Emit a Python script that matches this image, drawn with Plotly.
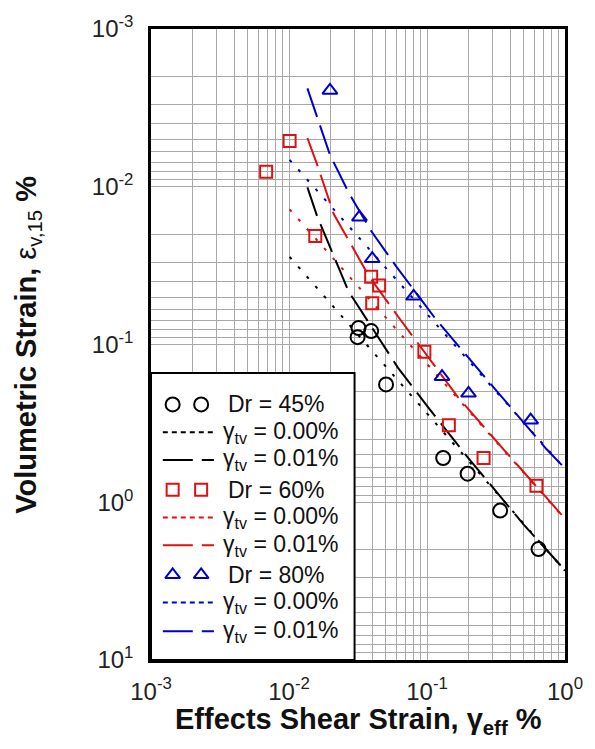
import plotly.graph_objects as go

# ---- measured test results (strain in %) ----
dr45_x = [0.0319, 0.0314, 0.0394, 0.0505, 0.131, 0.197, 0.339, 0.643]
dr45_y = [0.0787, 0.0898, 0.0822, 0.179, 0.524, 0.659, 1.13, 1.98]

dr60_x = [0.00683, 0.0101, 0.0155, 0.0394, 0.0450, 0.0401, 0.0957, 0.144, 0.257, 0.621]
dr60_y = [0.00802, 0.00513, 0.0205, 0.0372, 0.0422, 0.0548, 0.111, 0.325, 0.524, 0.785]

dr80_x = [0.0198, 0.0324, 0.0401, 0.080, 0.1285, 0.200, 0.564]
dr80_y = [0.00245, 0.0156, 0.0286, 0.0495, 0.160, 0.204, 0.302]

# ---- fitted relations, gamma_tv = 0.00 % ----
fit0_x = [0.0101, 1.0]
dr45_fit0_y = [0.0278, 2.72]
dr60_fit0_y = [0.0139, 1.28]
dr80_fit0_y = [0.00675, 0.614]

# ---- fitted relations, gamma_tv = 0.01 % ----
dr45_fit1_x = [0.0136, 0.016, 0.027, 0.0615, 0.102, 0.194, 0.50, 1.0]
dr45_fit1_y = [0.0101, 0.0154, 0.046, 0.140, 0.250, 0.51, 1.38, 2.70]
dr60_fit1_x = [0.0136, 0.016, 0.0211, 0.0382, 0.0615, 0.167, 0.361, 1.0]
dr60_fit1_y = [0.00491, 0.00724, 0.0149, 0.0372, 0.0662, 0.215, 0.465, 1.27]
dr80_fit1_x = [0.0136, 0.0198, 0.027, 0.0394, 0.0594, 0.1146, 0.292, 0.733, 1.0]
dr80_fit1_y = [0.00238, 0.00627, 0.01086, 0.0191, 0.0317, 0.0683, 0.1795, 0.46, 0.61]

tick_vals = [0.001, 0.01, 0.1, 1, 10]
tick_text = ["10<sup>-3</sup>", "10<sup>-2</sup>", "10<sup>-1</sup>", "10<sup>0</sup>", "10<sup>1</sup>"]

legend_rows = [
    ("Dr = 45%", "marker", "#000000", "circle-open", 14),
    ("γ<sub>tv</sub> = 0.00%", "dot", "#000000", None, None),
    ("γ<sub>tv</sub> = 0.01%", "dash", "#000000", None, None),
    ("Dr = 60%", "marker", "#dd1111", "square-open", 12),
    ("γ<sub>tv</sub> = 0.00%", "dot", "#dd1111", None, None),
    ("γ<sub>tv</sub> = 0.01%", "dash", "#dd1111", None, None),
    ("Dr = 80%", "marker", "#0000cc", "triangle-up-open", 13),
    ("γ<sub>tv</sub> = 0.00%", "dot", "#0000cc", None, None),
    ("γ<sub>tv</sub> = 0.01%", "dash", "#0000cc", None, None),
]

FONT = "Liberation Sans, Arial, sans-serif"
GRID = "#a8a8a8"
DOT = "3px,10px"
LONGDASH = "30px,9px"

fig = go.Figure()

series = [
    (dr45_x, dr45_y, dr45_fit0_y, dr45_fit1_x, dr45_fit1_y, "#000000", "circle-open", 14),
    (dr60_x, dr60_y, dr60_fit0_y, dr60_fit1_x, dr60_fit1_y, "#dd1111", "square-open", 12),
    (dr80_x, dr80_y, dr80_fit0_y, dr80_fit1_x, dr80_fit1_y, "#0000cc", "triangle-up-open", 13),
]

for px, py, f0y, f1x, f1y, col, sym, size in series:
    fig.add_trace(go.Scatter(x=fit0_x, y=f0y, mode="lines",
                             line=dict(color=col, width=2, dash=DOT),
                             showlegend=False, hoverinfo="skip"))
    fig.add_trace(go.Scatter(x=f1x, y=f1y, mode="lines",
                             line=dict(color=col, width=2, dash=LONGDASH),
                             showlegend=False, hoverinfo="skip"))
for px, py, f0y, f1x, f1y, col, sym, size in series:
    fig.add_trace(go.Scatter(x=px, y=py, mode="markers",
                             marker=dict(symbol=sym, size=size, color=col,
                                         line=dict(width=2)),
                             showlegend=False, hoverinfo="skip"))

# ---- hand-built legend on an overlay axis spanning the plot area ----
# white box with black frame
box_x = [0, 0.4917, 0.4917, 0, 0]
box_y = [0, 0, 0.455, 0.455, 0]
fig.add_trace(go.Scatter(x=box_x, y=box_y, mode="lines", fill="toself",
                         fillcolor="white", line=dict(color="black", width=2),
                         xaxis="x2", yaxis="y2", showlegend=False,
                         hoverinfo="skip"))

row_y = [0.405, 0.361, 0.317, 0.270, 0.226, 0.182, 0.135, 0.091, 0.0455]
annotations = []
for (label, kind, col, sym, size), yy in zip(legend_rows, row_y):
    if kind == "marker":
        fig.add_trace(go.Scatter(x=[0.0523, 0.1211], y=[yy, yy], mode="markers",
                                 xaxis="x2", yaxis="y2",
                                 marker=dict(symbol=sym, size=size, color=col,
                                             line=dict(width=2)),
                                 showlegend=False, hoverinfo="skip"))
        tx = 0.1805
    else:
        fig.add_trace(go.Scatter(x=[0.0285, 0.152], y=[yy, yy], mode="lines",
                                 xaxis="x2", yaxis="y2",
                                 line=dict(color=col, width=2,
                                           dash="5px,4px" if kind == "dot" else LONGDASH),
                                 showlegend=False, hoverinfo="skip"))
        tx = 0.1686
    annotations.append(dict(x=tx, y=yy, xref="paper", yref="paper", text=label,
                            showarrow=False, xanchor="left", yanchor="middle",
                            font=dict(family=FONT, size=23, color="#111111")))

# axis titles
annotations.append(dict(
    x=0.5, y=-0.097, xref="paper", yref="paper", showarrow=False,
    xanchor="center", yanchor="middle",
    text="<b>Effects Shear Strain, γ<sub>eff</sub> %</b>",
    font=dict(family=FONT, size=29, color="#111111")))
annotations.append(dict(
    x=-0.299, y=0.5, xref="paper", yref="paper", showarrow=False,
    xanchor="center", yanchor="middle", textangle=-90,
    text="<b>Volumetric Strain, </b>ε<sub>v,15</sub><b> %</b>",
    font=dict(family=FONT, size=29, color="#111111")))

axis_common = dict(
    type="log", tickmode="array", tickvals=tick_vals, ticktext=tick_text,
    showgrid=True, gridcolor=GRID, gridwidth=1,
    minor=dict(dtick="D1", showgrid=True, gridcolor=GRID, gridwidth=1, ticks=""),
    showline=True, linecolor="black", linewidth=2.5, mirror=True,
    ticks="", zeroline=False,
    tickfont=dict(family=FONT, size=24, color="#222222"),
)

fig.update_layout(
    width=595, height=749,
    margin=dict(l=151, r=23, t=23, b=89),
    paper_bgcolor="white", plot_bgcolor="white",
    xaxis=dict(range=[-3, 0], ticklabelstandoff=8, **axis_common),
    yaxis=dict(range=[1, -3], ticklabelstandoff=10, **axis_common),
    xaxis2=dict(overlaying="x", range=[0, 1], visible=False, fixedrange=True),
    yaxis2=dict(overlaying="y", range=[0, 1], visible=False, fixedrange=True),
    annotations=annotations,
    showlegend=False,
)

fig.write_html("out.html")
